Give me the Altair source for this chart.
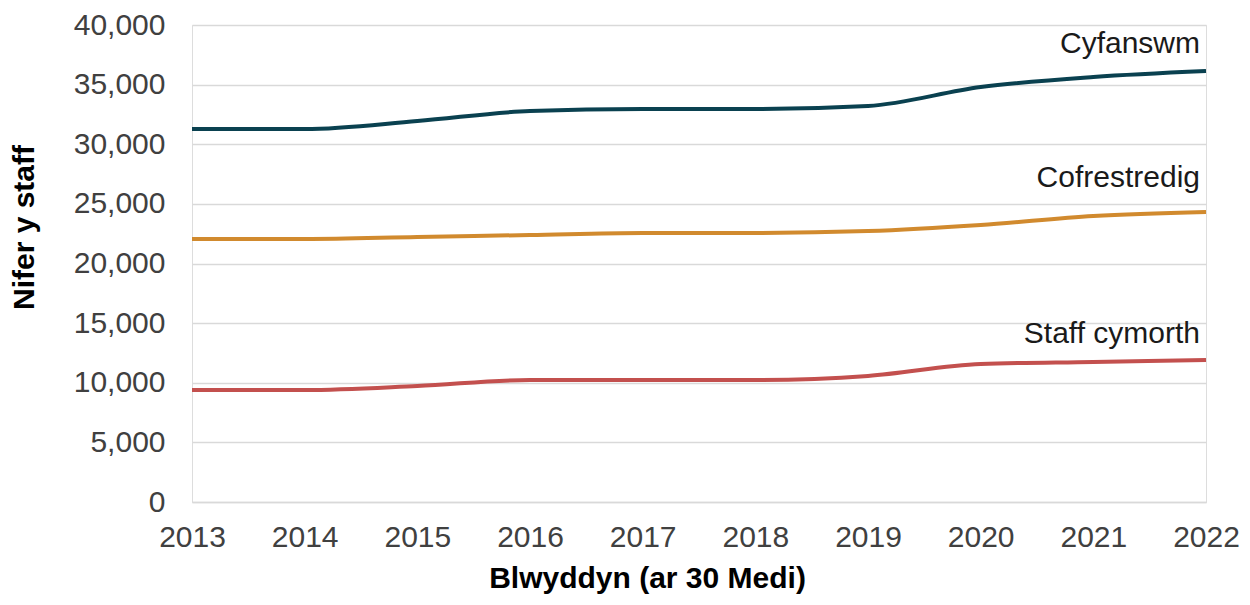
import altair as alt
import pandas as pd

years = [2013, 2014, 2015, 2016, 2017, 2018, 2019, 2020, 2021, 2022]
cyfanswm = [31280, 31280, 31950, 32790, 32960, 32960, 33210, 34800, 35640, 36140]
cofrestredig = [22050, 22050, 22220, 22390, 22560, 22560, 22720, 23230, 23980, 24320]
staff_cymorth = [9390, 9390, 9730, 10230, 10230, 10230, 10570, 11570, 11740, 11910]

series_names = ["Cyfanswm", "Cofrestredig", "Staff cymorth"]
series_colors = ["#0a4150", "#d18a2e", "#c3504e"]
label_y = [38400, 27150, 14050]

rows = []
for name, vals in zip(series_names, [cyfanswm, cofrestredig, staff_cymorth]):
    for yr, v in zip(years, vals):
        rows.append({"Blwyddyn": yr, "Nifer": v, "Cyfres": name})
df = pd.DataFrame(rows)

labels_df = pd.DataFrame({"Blwyddyn": [years[-1]] * 3, "Nifer": label_y, "Cyfres": series_names})

color_scale = alt.Scale(domain=series_names, range=series_colors)
FS = 30

x_enc = alt.X("Blwyddyn:Q",
              scale=alt.Scale(domain=[2013, 2022], nice=False, zero=False),
              axis=alt.Axis(values=years, format="d", title="Blwyddyn (ar 30 Medi)",
                            grid=False, ticks=False, domainColor="#d9d9d9", domainWidth=1.5,
                            labelFlush=False, labelPadding=20,
                            titleX=455, titleY=85, titleBaseline="alphabetic", titleAlign="center",
                            labelFontSize=FS, labelColor="#404040", labelFont="Liberation Sans",
                            titleFontSize=30, titleFont="Liberation Sans", titleFontWeight="bold",
                            titleColor="#000000"))
y_enc = alt.Y("Nifer:Q",
              scale=alt.Scale(domain=[0, 40000], nice=False),
              axis=alt.Axis(values=list(range(0, 40001, 5000)), format=",.0f", title="Nifer y staff",
                            domain=False, ticks=False, gridColor="#d9d9d9", gridWidth=1.5,
                            labelPadding=27,
                            titleX=-168, titleY=202, titleAngle=-90, titleBaseline="middle",
                            titleAlign="center",
                            labelFontSize=FS, labelColor="#404040", labelFont="Liberation Sans",
                            titleFontSize=30, titleFont="Liberation Sans", titleFontWeight="bold",
                            titleColor="#000000"))

lines = alt.Chart(df).mark_line(strokeWidth=4, interpolate="monotone").encode(
    x=x_enc, y=y_enc,
    color=alt.Color("Cyfres:N", scale=color_scale, legend=None),
    detail="Cyfres:N",
)

texts = alt.Chart(labels_df).mark_text(align="right", baseline="middle", dx=-6,
                                       fontSize=FS, font="Liberation Sans", color="#1a1a1a").encode(
    x="Blwyddyn:Q", y="Nifer:Q", text="Cyfres:N"
)

chart = alt.layer(lines, texts).properties(
    width=1014, height=477,
    autosize=alt.AutoSizeParams(type="none"),
    padding={"left": 184, "top": 17, "right": 34, "bottom": 92},
).configure_view(stroke=None).configure(background="#ffffff")

chart.save("out.html", embed_options={"renderer": "svg", "actions": False})
